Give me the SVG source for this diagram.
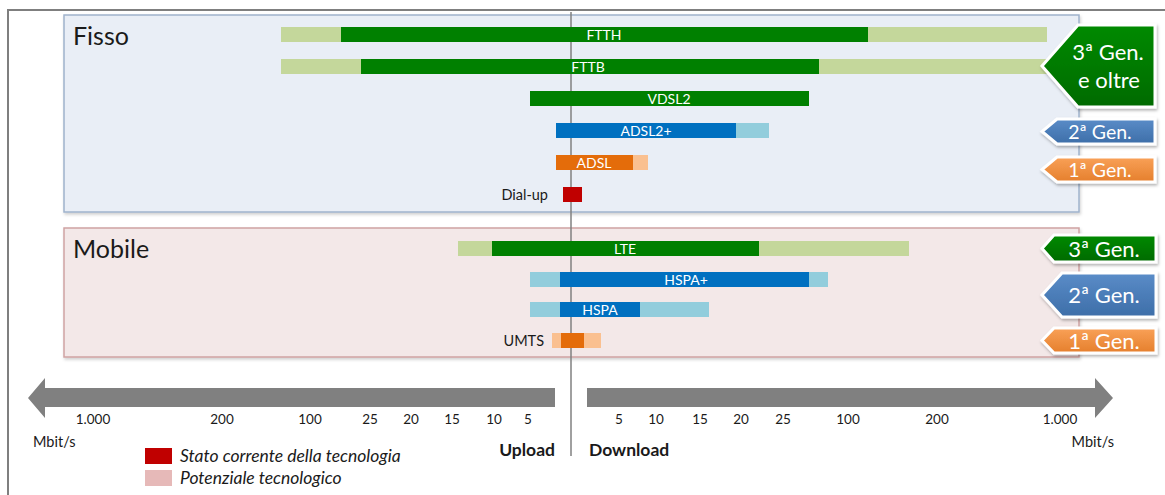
<svg xmlns="http://www.w3.org/2000/svg" width="1165" height="495" viewBox="0 0 1165 495">
  <defs>
    <style>
      text { font-family: Lato, "Open Sans", "Liberation Sans", sans-serif; }
      .panel-title { font-size: 25px; fill: #1a1a1a; }
      .bar-label { font-size: 14px; fill: #ffffff; text-anchor: middle; }
      .side-label { font-size: 14.5px; fill: #1a1a1a; text-anchor: end; }
      .tick { font-size: 13.5px; fill: #1a1a1a; text-anchor: middle; }
      .unit { font-size: 14.5px; fill: #1a1a1a; }
      .dir { font-size: 17.5px; font-weight: bold; fill: #1a1a1a; }
      .legend { font-size: 17.5px; font-style: italic; fill: #1a1a1a; }
      .gen { font-size: 22px; fill: #ffffff; text-anchor: middle; }
      .gen-sm { font-size: 19.5px; fill: #ffffff; text-anchor: middle; }
      .g3 { fill: url(#gGreen); }
      .g2 { fill: url(#gBlue); }
      .g1 { fill: url(#gOrange); }
      .tag { stroke: #ffffff; stroke-width: 3; filter: url(#shadow); }
      .green { fill: #008000; }
      .green-p { fill: #c4d79b; }
      .blue { fill: #0070c0; }
      .blue-p { fill: #92cddc; }
      .orange { fill: #e46c0a; }
      .orange-p { fill: #fac090; }
      .red { fill: #c00000; }
      .axis { fill: #808080; }
    </style>
    <linearGradient id="gGreen" x1="0" y1="0" x2="0" y2="1">
      <stop offset="0" stop-color="#008a00"/>
      <stop offset="1" stop-color="#006a00"/>
    </linearGradient>
    <linearGradient id="gBlue" x1="0" y1="0" x2="0" y2="1">
      <stop offset="0" stop-color="#5a8cc8"/>
      <stop offset="1" stop-color="#3d6ea8"/>
    </linearGradient>
    <linearGradient id="gOrange" x1="0" y1="0" x2="0" y2="1">
      <stop offset="0" stop-color="#f9a158"/>
      <stop offset="1" stop-color="#e57f2c"/>
    </linearGradient>
    <filter id="shadow" x="-20%" y="-20%" width="140%" height="150%">
      <feDropShadow dx="1" dy="2" stdDeviation="1.5" flood-color="#000000" flood-opacity="0.3"/>
    </filter>
    <filter id="panelShadow" x="-5%" y="-5%" width="110%" height="115%">
      <feDropShadow dx="1" dy="2" stdDeviation="1.5" flood-color="#000000" flood-opacity="0.18"/>
    </filter>
  </defs>

  <rect width="1165" height="495" fill="#ffffff"/>
  <!-- outer frame -->
  <path d="M8 495 V10 H1165" fill="none" stroke="#7f7f7f" stroke-width="2"/>

  <!-- panels -->
  <g id="panel-fisso">
    <rect x="64" y="15" width="1015" height="197" fill="#e9eef6" stroke="#9fb3cc" stroke-width="1.5" filter="url(#panelShadow)"/>
    <text class="panel-title" x="73" y="45">Fisso</text>
  </g>
  <g id="panel-mobile">
    <rect x="64" y="228" width="1015" height="129" fill="#f3e8e8" stroke="#cfa3a3" stroke-width="1.5" filter="url(#panelShadow)"/>
    <text class="panel-title" x="73" y="258">Mobile</text>
  </g>

  <!-- centre divider between upload and download -->
  <g id="connectors">
    <line x1="571" y1="12" x2="571" y2="456" stroke="#808080" stroke-width="1.5"/>
  </g>

  <!-- fixed-line technologies -->
  <g id="ftth">
    <rect class="green-p" x="281" y="27" width="766" height="15"/>
    <rect class="green" x="341" y="27" width="527" height="15"/>
    <text class="bar-label" x="604" y="39.5">FTTH</text>
  </g>
  <g id="fttb">
    <rect class="green-p" x="281" y="59" width="766" height="15"/>
    <rect class="green" x="361" y="59" width="458" height="15"/>
    <text class="bar-label" x="588" y="71.5">FTTB</text>
  </g>
  <g id="vdsl2">
    <rect class="green" x="530" y="91" width="279" height="15"/>
    <text class="bar-label" x="669" y="103.5">VDSL2</text>
  </g>
  <g id="adsl2plus">
    <rect class="blue-p" x="736" y="123" width="33" height="15"/>
    <rect class="blue" x="556" y="123" width="180" height="15"/>
    <text class="bar-label" x="646" y="135.5">ADSL2+</text>
  </g>
  <g id="adsl">
    <rect class="orange-p" x="633" y="155" width="15" height="15"/>
    <rect class="orange" x="556" y="155" width="77" height="15"/>
    <text class="bar-label" x="594" y="167.5">ADSL</text>
  </g>
  <g id="dialup">
    <rect class="red" x="563" y="187" width="19" height="15"/>
    <text class="side-label" x="548" y="200">Dial-up</text>
  </g>

  <!-- mobile technologies -->
  <g id="lte">
    <rect class="green-p" x="458" y="241" width="451" height="15"/>
    <rect class="green" x="492" y="241" width="267" height="15"/>
    <text class="bar-label" x="625" y="253.5">LTE</text>
  </g>
  <g id="hspaplus">
    <rect class="blue-p" x="530" y="272" width="298" height="15"/>
    <rect class="blue" x="560" y="272" width="249" height="15"/>
    <text class="bar-label" x="686" y="284.5">HSPA+</text>
  </g>
  <g id="hspa">
    <rect class="blue-p" x="530" y="302" width="179" height="15"/>
    <rect class="blue" x="560" y="302" width="80" height="15"/>
    <text class="bar-label" x="600" y="314.5">HSPA</text>
  </g>
  <g id="umts">
    <rect class="orange-p" x="552" y="333" width="49" height="15"/>
    <rect class="orange" x="561" y="333" width="23" height="15"/>
    <text class="side-label" x="544" y="346">UMTS</text>
  </g>

  <!-- generation tags -->
  <g id="tag-fisso-3">
    <path class="tag g3" d="M1078 25 H1155 V107 H1078 L1042 66 Z"/>
    <text class="gen" x="1108" y="60">3ª Gen.</text>
    <text class="gen" x="1109" y="88">e oltre</text>
  </g>
  <g id="tag-fisso-2">
    <path class="tag g2" d="M1057 119 H1155 V144 H1057 L1042 131.5 Z"/>
    <text class="gen-sm" x="1100" y="138.5">2ª Gen.</text>
  </g>
  <g id="tag-fisso-1">
    <path class="tag g1" d="M1057 157 H1155 V182 H1057 L1042 169.5 Z"/>
    <text class="gen-sm" x="1100" y="176.5">1ª Gen.</text>
  </g>
  <g id="tag-mobile-3">
    <path class="tag g3" d="M1054 235 H1156 V262 H1054 L1042 248.5 Z"/>
    <text class="gen" x="1104" y="256.5">3ª Gen.</text>
  </g>
  <g id="tag-mobile-2">
    <path class="tag g2" d="M1062 273 H1156 V317 H1062 L1042 295 Z"/>
    <text class="gen" x="1104" y="303">2ª Gen.</text>
  </g>
  <g id="tag-mobile-1">
    <path class="tag g1" d="M1054 328 H1156 V353 H1054 L1042 340.5 Z"/>
    <text class="gen" x="1104" y="348.5">1ª Gen.</text>
  </g>

  <!-- speed axes -->
  <g id="axis-upload">
    <path class="axis" d="M555 388 H45 V378 L28 398 L45 418 V407 H555 Z"/>
    <text class="tick" x="93" y="424">1.000</text>
    <text class="tick" x="222" y="424">200</text>
    <text class="tick" x="310" y="424">100</text>
    <text class="tick" x="370" y="424">25</text>
    <text class="tick" x="411" y="424">20</text>
    <text class="tick" x="452" y="424">15</text>
    <text class="tick" x="494" y="424">10</text>
    <text class="tick" x="528" y="424">5</text>
    <text class="unit" x="33" y="447">Mbit/s</text>
    <text class="dir" x="555" y="456" text-anchor="end">Upload</text>
  </g>
  <g id="axis-download">
    <path class="axis" d="M587 388 H1095 V378 L1113 398 L1095 418 V407 H587 Z"/>
    <text class="tick" x="619" y="424">5</text>
    <text class="tick" x="656" y="424">10</text>
    <text class="tick" x="700" y="424">15</text>
    <text class="tick" x="741" y="424">20</text>
    <text class="tick" x="783" y="424">25</text>
    <text class="tick" x="848" y="424">100</text>
    <text class="tick" x="937" y="424">200</text>
    <text class="tick" x="1060" y="424">1.000</text>
    <text class="unit" x="1114" y="447" text-anchor="end">Mbit/s</text>
    <text class="dir" x="589" y="456">Download</text>
  </g>

  <!-- legend -->
  <g id="legend">
    <rect x="145" y="448" width="27" height="16" fill="#c00000"/>
    <text class="legend" x="180" y="462">Stato corrente della tecnologia</text>
    <rect x="145" y="470" width="27" height="16" fill="#e6b9b8"/>
    <text class="legend" x="180" y="484">Potenziale tecnologico</text>
  </g>
</svg>
